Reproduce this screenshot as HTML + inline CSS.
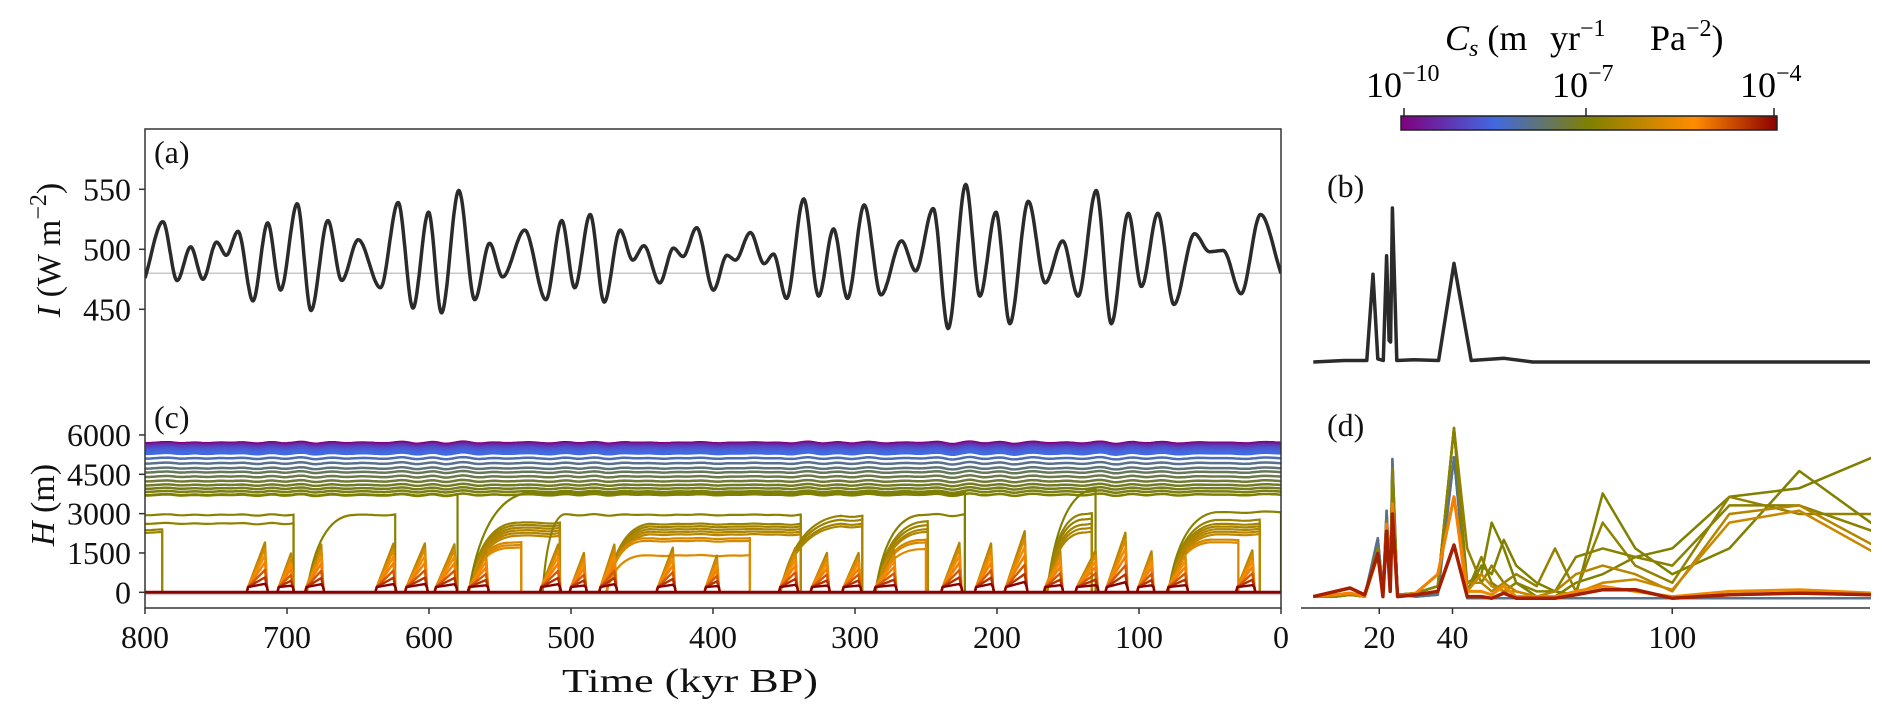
<!DOCTYPE html>
<html><head><meta charset="utf-8"><style>
html,body{margin:0;padding:0;background:#fff}
svg{display:block;font-family:"Liberation Serif","DejaVu Serif",serif}
</style></head><body>
<svg id="fig" width="1892" height="715" viewBox="0 0 1892 715" xmlns="http://www.w3.org/2000/svg">
<defs>
<linearGradient id="cbar" x1="0" x2="1" y1="0" y2="0">
<stop offset="0" stop-color="#800080"/><stop offset="0.25" stop-color="#4169e1"/><stop offset="0.5" stop-color="#808000"/><stop offset="0.78" stop-color="#ff8c00"/><stop offset="1" stop-color="#8b0000"/>
</linearGradient>
<clipPath id="clipL"><rect x="145" y="129" width="1136" height="479"/></clipPath>
<clipPath id="clipR"><rect x="1301" y="150" width="570" height="460"/></clipPath>
</defs>
<g id="marks"></g>
<g>
<rect x="145" y="129" width="1136" height="479" fill="none" stroke="#333" stroke-width="1.5"/>
</g>
<g id="axes" font-size="32" fill="#111"></g>
<g>
<rect x="1401" y="116" width="376" height="14" fill="url(#cbar)" stroke="#222" stroke-width="1.5"/>
<line x1="1404" y1="108" x2="1404" y2="116" stroke="#222" stroke-width="1.5"/>
<line x1="1586" y1="108" x2="1586" y2="116" stroke="#222" stroke-width="1.5"/>
<line x1="1774" y1="108" x2="1774" y2="116" stroke="#222" stroke-width="1.5"/>
<text x="1366" y="97" font-size="36" text-anchor="start">10<tspan font-size="24" dy="-16">−10</tspan></text>
<text x="1552" y="97" font-size="36" text-anchor="start">10<tspan font-size="24" dy="-16">−7</tspan></text>
<text x="1740" y="97" font-size="36" text-anchor="start">10<tspan font-size="24" dy="-16">−4</tspan></text>
<g font-size="36">
<text x="1445" y="50"><tspan font-style="italic">C</tspan><tspan font-style="italic" font-size="24" dy="6">s</tspan><tspan dy="-6"> (m</tspan></text>
<text x="1550" y="50">yr<tspan font-size="24" dy="-14">−1</tspan></text>
<text x="1650" y="50">Pa<tspan font-size="24" dy="-14">−2</tspan><tspan dy="14">)</tspan></text>
</g>
</g>
</svg>
<script>
// ---------- data ----------
var insT = [800,787.4,777.4,767.8,759.2,749.6,742.8,734.5,724.0,713.6,704.5,692.8,683.1,671.2,661.5,649.8,634.2,621.7,611.3,600.3,591.2,579,567.8,557.3,548.2,532.6,517.7,506.5,497.4,486.5,476.6,465.4,456.5,448.7,437.5,427.9,421.1,411.5,399.7,390.2,384.2,373.7,364,357.4,348.2,336.1,325.6,315.1,305.3,293.5,281.7,267.2,257.3,244.9,234.4,222,212.1,200.7,191,177.9,166.1,153.7,142.9,130.1,119.5,107.5,98.3,86.7,75.4,60.9,50.4,40.7,28.1,14.4,0];
var insV = [476,523,474,502,475,506,495,515,457,522,466,538,449,524,474,508,468,539,451,531,447,549,458,505,477,516,458,524,468,529,456,516,491,503,472,501,494,518,466,495,491,514,488,496,459,542,461,517,459,537,462,507,482,534,434,554,461,531,438,540,472,507,461,549,438,530,469,530,454,513,498,499,463,529,480];
var steadyH = [5680,5640,5600,5560,5500,5440,5380,5310,5110,4920,4730,4580,4410,4240,4090,3960,3840,3720];
var steadyC = [0.0,0.05,0.1,0.14,0.18,0.21,0.23,0.25,0.3,0.34,0.37,0.4,0.42,0.44,0.46,0.47,0.48,0.5];
var spikeStart = [727.4,705.8,686.3,636.8,615.9,595.1,571.7,520.9,500,479.2,438.8,405,352.6,330.3,308,285.6,238.3,214.7,193.7,166,143.7,122.7,100.4,79.3,30.7];
var spikePeak = [715.5,697.2,675.9,625.1,602.9,582.1,559.9,509.1,490.9,469.5,428.3,397.3,342.1,319.8,297.5,272.5,226.5,204.2,180.5,155.5,130.6,109.6,91.2,67.5,20.2];
var spikeH = [1900,1480,1820,1850,1860,1830,1560,1820,1500,1820,1700,1400,1690,1500,1500,1600,1885,1860,2330,1600,1600,2270,1560,1600,1600];
var glacStart = [800,800,686,572,572,520,475,475,352.6,285.6,285.6,285.6,164.7,164.7,79.3,79.3,79.3,800,572];
var glacRamp = [800,800,655,540,545,505,445,450,310,252,255,255,133,140,46,46,50,800,530];
var glacEnd = [695.4,787.9,623.8,507.8,535,338.2,338.2,374,294.8,248.8,250,222.6,130.6,133.2,15,0,30,579.9,222.6];
var glacHeights = [[2950,2620],[2380,2280],[2950],[2650,2550,2450,2350,2250,2150],[1900,1800,1700],[2950],[2600,2500,2400,2300,2200],[2050,1950,1400],[2900,2750,2600,2500],[2700,2550,2400,2300],[2000,1900,1650],[2950],[3900],[3000,2800,2600,2450,2300],[2750,2600,2500,2400,2300,2200],[3050],[2000,1900],[3700],[3780]];
var glacCol = [0.52,0.55,0.52,0.56,0.68,0.52,0.56,0.68,0.55,0.56,0.68,0.52,0.5,0.54,0.56,0.52,0.68,0.5,0.5];
// panel (b)
var specF = [2,10.5,16.6,18.3,19.6,21.1,22.0,22.7,23.1,23.6,24.8,29.5,36.2,40.4,45.1,54.1,61.9,154];
var specA = [0,0.01,0.01,0.57,0.02,0.01,0.69,0.14,0.13,1.0,0.01,0.015,0.01,0.64,0.01,0.024,0,0];
// panel (d)
var dF = [2,8,12,16,19.6,21,22,23,23.6,25,30,36,40.4,44,47.9,50.7,54,57.4,63,68,73.7,81,89.9,100,115.6,134.7,154.8];
var dHeadBlue = [0.02,0.02,0.03,0.02,0.36,0.05,0.52,0.1,0.82,0.03,0.02,0.03,0.83];
var dHeadOlive = [0.02,0.02,0.03,0.02,0.3,0.05,0.46,0.1,0.76,0.03,0.04,0.08,1.0];
var dHeadOrange = [0.02,0.03,0.04,0.02,0.26,0.04,0.44,0.08,0.56,0.02,0.04,0.15,0.6];
var dHeadRed = [0.02,0.05,0.07,0.03,0.27,0.02,0.4,0.05,0.5,0.02,0.03,0.05,0.32];
var dTailFlat = [0.01,0.01,0.01,0.01,0.01,0.01,0.01,0.01,0.01,0.01,0.01,0.01,0.01,0.01];
var dTail1 = [0.1,0.15,0.45,0.3,0.1,0.02,0.02,0.1,0.15,0.25,0.3,0.6,0.65,0.83];
var dTail2 = [0.05,0.2,0.15,0.35,0.2,0.1,0.05,0.03,0.62,0.3,0.15,0.3,0.75,0.44];
var dTail3 = [0.3,0.1,0.2,0.1,0.15,0.08,0.3,0.05,0.45,0.2,0.1,0.6,0.5,0.5];
var dTail4 = [0.05,0.25,0.1,0.05,0.1,0.05,0.05,0.25,0.3,0.25,0.2,0.55,0.55,0.4];
var dTail5 = [0.1,0.1,0.05,0.1,0.05,0.02,0.05,0.15,0.2,0.15,0.05,0.5,0.55,0.32];
var dTail6 = [0.05,0.15,0.08,0.05,0.05,0.02,0.02,0.04,0.1,0.12,0.06,0.45,0.52,0.28];
var dTail7 = [0.05,0.05,0.03,0.08,0.02,0.02,0.02,0.05,0.08,0.05,0.02,0.05,0.06,0.04];
var dTail8 = [0.02,0.02,0.01,0.04,0.01,0.01,0.01,0.03,0.06,0.06,0.01,0.03,0.04,0.03];
var yTicksI = [450,500,550];
var yTicksH = [0,1500,3000,4500,6000];
var xTicksT = [800,700,600,500,400,300,200,100,0];
var xTicksF = [20,40,100];

// ---------- scales ----------
function xT(t){return 145+(800-t)*1.42;}
function yI(v){return 249.3-(v-500)*1.2;}
function yH(h){return 592.3-h*0.02622;}
function xF(f){return 1306+f*3.6625;}
function yB(a){return 362-a*154;}
function yD(a){return 600-a*172;}
var stops=[[0,[128,0,128]],[0.25,[65,105,225]],[0.5,[128,128,0]],[0.78,[255,140,0]],[1,[139,0,0]]];
function cmap(t){for(var i=0;i<stops.length-1;i++){var a=stops[i],b=stops[i+1];if(t<=b[0]){var u=(t-a[0])/(b[0]-a[0]);return 'rgb('+[0,1,2].map(function(k){return Math.round(a[1][k]+(b[1][k]-a[1][k])*u);}).join(',')+')';}}return 'rgb(139,0,0)';}
var ax=insT.slice().reverse(), ay=insV.slice().reverse();
var nn=ax.length, dxs=[], sl=[], mm=[];
for(var i=0;i<nn-1;i++){dxs.push(ax[i+1]-ax[i]);sl.push((ay[i+1]-ay[i])/dxs[i]);}
mm[0]=sl[0];mm[nn-1]=sl[nn-2];
for(var i=1;i<nn-1;i++){mm[i]=(sl[i-1]*sl[i]<=0)?0:(sl[i-1]+sl[i])/2;}
function insAt(t){if(t<=ax[0])return ay[0];if(t>=ax[nn-1])return ay[nn-1];var i=0;while(ax[i+1]<t)i++;var h=dxs[i],s=(t-ax[i])/h,s2=s*s,s3=s2*s;return (2*s3-3*s2+1)*ay[i]+(s3-2*s2+s)*h*mm[i]+(-2*s3+3*s2)*ay[i+1]+(s3-s2)*h*mm[i+1];}
function wig(t){return 0.8*(insAt(Math.min(800,t+3))-490);}

var NS='http://www.w3.org/2000/svg';
var marks=document.getElementById('marks'), axes=document.getElementById('axes');
function mk(tag,attrs,parent){var e=document.createElementNS(NS,tag);for(var k in attrs)e.setAttribute(k,attrs[k]);(parent||marks).appendChild(e);return e;}

// ---------- panel (a) ----------
var gA=mk('g',{'clip-path':'url(#clipL)'});


var ref=mk('line',{x1:145,x2:1281,y1:yI(480),y2:yI(480),stroke:'#c8c8c8','stroke-width':1.5},gA);


var d='';for(var t=800;t>=0;t-=0.5){d+=(t==800?'M':'L')+xT(t).toFixed(1)+','+yI(insAt(t)).toFixed(1);}
var insPath=mk('path',{d:d,fill:'none',stroke:'#2b2b2b','stroke-width':3.5,'stroke-linejoin':'round'},gA);



// ---------- panel (c) ----------
var gC=mk('g',{'clip-path':'url(#clipL)'});


var zg=mk('line',{x1:145,x2:1281,y1:yH(0)+2,y2:yH(0)+2,stroke:'#d0d0d0','stroke-width':2},gC);


steadyH.forEach(function(h,i){
  var p='';for(var t=800;t>=0;t-=2){p+=(t==800?'M':'L')+xT(t).toFixed(1)+','+yH(h+wig(t)).toFixed(1);}
  var e=mk('path',{d:p,fill:'none',stroke:cmap(steadyC[i]),'stroke-width':i<8?3.5:2.5},gC);
  
  
});
glacStart.forEach(function(s,i){
  glacHeights[i].forEach(function(h,j){
    var r=glacRamp[i], en=glacEnd[i], p='';
    if(s>r){p='M'+xT(s)+','+yH(0)+' Q'+xT(s-(s-r)*0.25)+','+yH(h*0.95)+' '+xT(r)+','+yH(h+wig(r));}
    else{p='M'+xT(s)+','+yH(h+wig(s));}
    for(var t=Math.floor(r/2)*2;t>en;t-=2){p+='L'+xT(t).toFixed(1)+','+yH(h+wig(t)).toFixed(1);}
    p+='L'+xT(en)+','+yH(h+wig(en))+'L'+xT(en)+','+yH(0);
    var e=mk('path',{d:p,fill:'none',stroke:cmap(glacCol[i]+j*0.015),'stroke-width':2.2},gC);
    
    
  });
});
var nestF=[1,0.88,0.74,0.6,0.45,0.3,0.17], nestC=[0.62,0.7,0.76,0.8,0.86,0.92,1.0];
spikeStart.forEach(function(s,i){
  nestF.forEach(function(f,j){
    var pk=spikePeak[i], h=spikeH[i]*f;
    var p='M'+xT(s+1)+','+yH(0)+'L'+xT(s)+','+yH(Math.min(h,200))+'L'+xT(pk)+','+yH(h)+'L'+(xT(pk)+2)+','+yH(Math.min(h,200))+'L'+(xT(pk)+3)+','+yH(0);
    var e=mk('path',{d:p,fill:'none',stroke:cmap(nestC[j]),'stroke-width':2.4,'stroke-linejoin':'round'},gC);
    
    
  });
});
var zl=mk('line',{x1:145,x2:1281,y1:yH(0),y2:yH(0),stroke:'#8b0000','stroke-width':3},gC);



// ---------- panel (b) ----------
var pb='';specF.forEach(function(f,i){pb+=(i?'L':'M')+xF(f).toFixed(1)+','+yB(specA[i]).toFixed(1);});
var bl=mk('path',{d:pb,fill:'none',stroke:'#2b2b2b','stroke-width':3.5,'stroke-linejoin':'round','clip-path':'url(#clipR)'});



// ---------- panel (d) ----------
var dLines=[[dHeadBlue,dTailFlat,0.25,2.5],[dHeadBlue,dTailFlat,0.35,2.5],[dHeadOlive,dTail1,0.5,2.5],[dHeadOlive,dTail2,0.5,2.5],[dHeadOlive,dTail3,0.54,2.5],[dHeadOlive,dTail4,0.52,2.5],[dHeadOrange,dTail5,0.62,2.5],[dHeadOrange,dTail6,0.66,2.5],[dHeadOrange,dTail7,0.74,3],[dHeadOrange,dTail8,0.8,3],[dHeadRed,dTail8,0.95,3.5]];
var gD=mk('g',{'clip-path':'url(#clipR)'});


dLines.forEach(function(L){
  var vals=L[0].concat(L[1]), p='';
  dF.forEach(function(f,i){p+=(i?'L':'M')+xF(f).toFixed(1)+','+yD(vals[i]).toFixed(1);});
  var e=mk('path',{d:p,fill:'none',stroke:cmap(L[2]),'stroke-width':L[3],'stroke-linejoin':'round'},gD);
  
  
});

// ---------- axes ----------
function txt(x,y,s,anchor,name){var e=mk('text',{x:x,y:y,'text-anchor':anchor||'middle'},axes);e.textContent=s;return e;}
yTicksI.forEach(function(v){mk('line',{x1:139,x2:145,y1:yI(v),y2:yI(v),stroke:'#333','stroke-width':1.5},axes);txt(131,yI(v)+11,String(v),'end','y-tick-label-insolation');});
yTicksH.forEach(function(v){mk('line',{x1:139,x2:145,y1:yH(v),y2:yH(v),stroke:'#333','stroke-width':1.5},axes);txt(131,yH(v)+11,String(v),'end','y-tick-label-thickness');});
xTicksT.forEach(function(v){mk('line',{x1:xT(v),x2:xT(v),y1:608,y2:614,stroke:'#333','stroke-width':1.5},axes);txt(xT(v),648,String(v),'middle','x-tick-label-time');});
mk('line',{x1:1301,x2:1870,y1:608,y2:608,stroke:'#333','stroke-width':1.5},axes);
xTicksF.forEach(function(v){mk('line',{x1:xF(v),x2:xF(v),y1:608,y2:614,stroke:'#333','stroke-width':1.5},axes);txt(xF(v),648,String(v),'middle','x-tick-label-period');});
var tt=txt(690,692,'Time (kyr BP)','middle','x-axis-title');
tt.setAttribute('font-size','34');
tt.setAttribute('textLength','256');
tt.setAttribute('lengthAdjust','spacingAndGlyphs');
txt(154,163,'(a)','start','panel-label-a');
txt(154,428,'(c)','start','panel-label-c');
txt(1327,197,'(b)','start','panel-label-b');
txt(1327,436,'(d)','start','panel-label-d');
var yl1=mk('text',{x:0,y:0,'text-anchor':'middle','font-size':'34',transform:'translate(60,250) rotate(-90)'},axes);


yl1.innerHTML='<tspan font-style="italic">I</tspan> (W m<tspan font-size="24" dy="-14">−2</tspan><tspan dy="14">)</tspan>';
var yl2=mk('text',{x:0,y:0,'text-anchor':'middle','font-size':'34',transform:'translate(54,505) rotate(-90)'},axes);


yl2.innerHTML='<tspan font-style="italic">H</tspan> (m)';
</script>
</body></html>
